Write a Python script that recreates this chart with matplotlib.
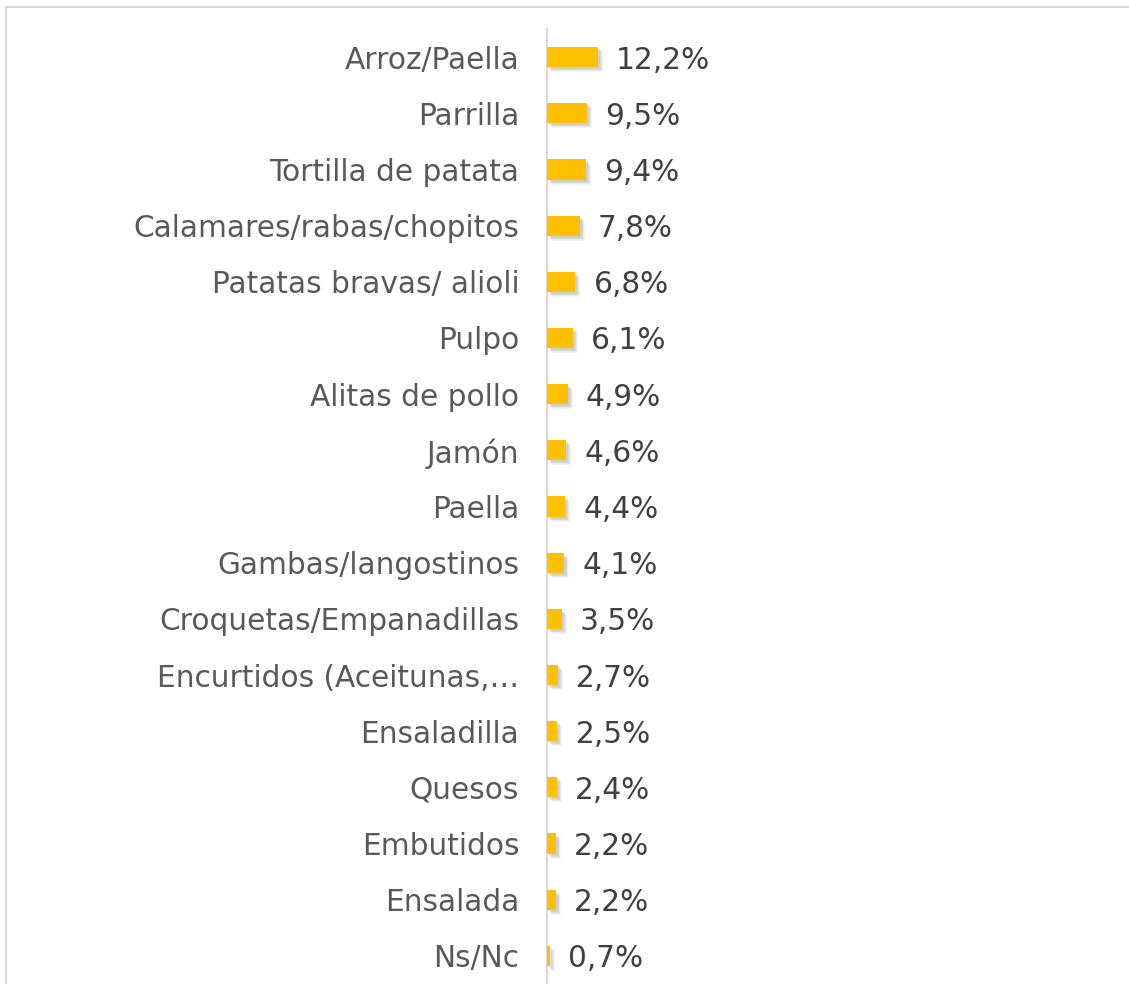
import matplotlib.pyplot as plt
import matplotlib.transforms as mtransforms
from matplotlib.patches import Rectangle

# Datos
categorias = ['Arroz/Paella', 'Parrilla', 'Tortilla de patata', 'Calamares/rabas/chopitos',
              'Patatas bravas/ alioli', 'Pulpo', 'Alitas de pollo', 'Jamón', 'Paella',
              'Gambas/langostinos', 'Croquetas/Empanadillas', 'Encurtidos (Aceitunas,…',
              'Ensaladilla', 'Quesos', 'Embutidos', 'Ensalada', 'Ns/Nc']
valores = [12.2, 9.5, 9.4, 7.8, 6.8, 6.1, 4.9, 4.6, 4.4, 4.1, 3.5, 2.7, 2.5, 2.4, 2.2, 2.2, 0.7]
etiquetas = ['12,2%', '9,5%', '9,4%', '7,8%', '6,8%', '6,1%', '4,9%', '4,6%', '4,4%',
             '4,1%', '3,5%', '2,7%', '2,5%', '2,4%', '2,2%', '2,2%', '0,7%']

fig = plt.figure(figsize=(11.29, 9.84), dpi=100)
ax = fig.add_axes([547 / 1129, 0, 1 - 547 / 1129, (984 - 29) / 984])

pos = list(range(len(categorias)))

# Sombra difusa de las barras
for dx, dy, a in [(5, -5, 0.07), (4, -4, 0.10), (3, -3, 0.13), (2, -2, 0.13)]:
    sombra = mtransforms.offset_copy(ax.transData, fig=fig, x=dx, y=dy, units='dots')
    ax.barh(pos, valores, height=0.36, color='#7f7f7f', alpha=a,
            transform=sombra, zorder=1, linewidth=0)

ax.barh(pos, valores, height=0.36, color='#ffc000', zorder=3, linewidth=0)

for p, v, t in zip(pos, valores, etiquetas):
    ax.annotate(t, (v, p), xytext=(18, 0), textcoords='offset pixels',
                va='center_baseline', ha='left', fontsize=21.3, color='#404040')

ax.set_xlim(0, 139)
ax.set_ylim(len(categorias) - 0.5, -0.5)
ax.set_yticks(pos)
ax.set_yticklabels(categorias, fontsize=21.3, color='#595959')
ax.tick_params(axis='y', length=0, pad=20)
ax.set_xticks([])
for s in ['top', 'right', 'bottom']:
    ax.spines[s].set_visible(False)
ax.spines['left'].set_color('#d9d9d9')
ax.spines['left'].set_linewidth(1.5)
ax.patch.set_alpha(0)

# Marco del gráfico
fig.patches.append(Rectangle((6 / 1129, -0.01), 1.0, 1 - 7 / 984 + 0.01, transform=fig.transFigure,
                             fill=False, edgecolor='#d9d9d9', linewidth=1.5, zorder=0))

fig.savefig('out.png', dpi=100)
